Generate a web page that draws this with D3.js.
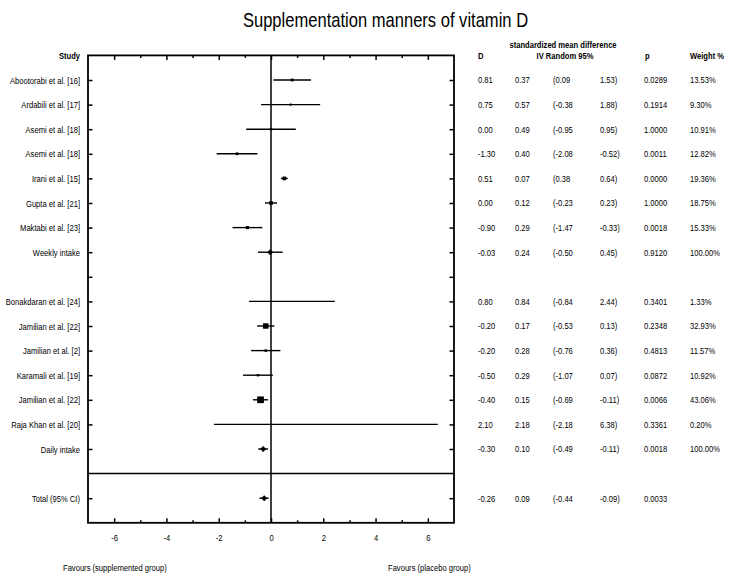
<!DOCTYPE html>
<html>
<head>
<meta charset="utf-8">
<script src="https://cdn.jsdelivr.net/npm/d3@7"></script>
<style>
  html, body { margin: 0; padding: 0; background: #fff; }
  svg { display: block; font-family: "Liberation Sans", Arial, sans-serif; }
  text { fill: #000; }
</style>
</head>
<body>
<svg id="chart" width="734" height="577"></svg>
<script>
// ---- data ----
const rowLabels = ["Abootorabi et al. [16]", "Ardabili et al. [17]", "Asemi et al. [18]", "Asemi et al. [18]",
  "Irani et al. [15]", "Gupta et al. [21]", "Maktabi et al. [23]", "Weekly intake", "",
  "Bonakdaran et al. [24]", "Jamilian et al. [22]", "Jamilian et al. [2]", "Karamali et al. [19]",
  "Jamilian et al. [22]", "Raja Khan et al. [20]", "Daily intake", "", "Total (95% CI)"];
const rowKinds = ["study", "study", "study", "study", "study", "study", "study", "pooled", "blank",
  "study", "study", "study", "study", "study", "study", "pooled", "separator", "pooled"];
const smd = [0.81, 0.75, 0.00, -1.30, 0.51, 0.00, -0.90, -0.03, null,
  0.80, -0.20, -0.20, -0.50, -0.40, 2.10, -0.30, null, -0.26];
const se = [0.37, 0.57, 0.49, 0.40, 0.07, 0.12, 0.29, 0.24, null,
  0.84, 0.17, 0.28, 0.29, 0.15, 2.18, 0.10, null, 0.09];
const ciLow = [0.09, -0.38, -0.95, -2.08, 0.38, -0.23, -1.47, -0.50, null,
  -0.84, -0.53, -0.76, -1.07, -0.69, -2.18, -0.49, null, -0.44];
const ciHigh = [1.53, 1.88, 0.95, -0.52, 0.64, 0.23, -0.33, 0.45, null,
  2.44, 0.13, 0.36, 0.07, -0.11, 6.38, -0.11, null, -0.09];
const pValues = ["0.0289", "0.1914", "1.0000", "0.0011", "0.0000", "1.0000", "0.0018", "0.9120", null,
  "0.3401", "0.2348", "0.4813", "0.0872", "0.0066", "0.3361", "0.0018", null, "0.0033"];
const weights = [13.53, 9.30, 10.91, 12.82, 19.36, 18.75, 15.33, 100.00, null,
  1.33, 32.93, 11.57, 10.92, 43.06, 0.20, 100.00, null, null];
const majorTicks = [-6, -4, -2, 0, 2, 4, 6];
const minorTicks = [-5, -3, -1, 1, 3, 5];
const title = "Supplementation manners of vitamin D";
const leftNote = "Favours (supplemented group)";
const rightNote = "Favours (placebo group)";

// ---- layout ----
const SX = 0.8; // horizontal text compression seen in the reference
const svg = d3.select("#chart");
const x = d3.scaleLinear().domain([-7, 7]).range([88, 454]);
const y = d3.scaleLinear().domain([-1, 18]).range([55.4, 522.8]);
const sizeScale = d3.scalePow().exponent(0.75).domain([0, 43.06]).range([0, 6.7]);
const hy = s => s.replace(/\u2212/g, "-");

function put(sel, px, py, str, opts = {}) {
  return sel.append("text")
    .attr("transform", `translate(${px},${py}) scale(${SX},1)`)
    .attr("text-anchor", opts.anchor || "start")
    .attr("dy", opts.dy || "0.35em")
    .style("font-size", (opts.size || 9.5) + "px")
    .style("font-weight", opts.weight || "normal")
    .text(str);
}

// title
put(svg, 385.5, 20, title, { anchor: "middle", size: 20.7 });

const x0 = x.range()[0], x1 = x.range()[1];
const yTop = y(-1), yBot = y(18);
const rowIdx = d3.range(rowLabels.length);
const tickRows = rowIdx.filter(i => rowKinds[i] !== "separator");

// axes
const axisStyle = g => {
  g.select(".domain").remove();
  g.selectAll(".tick line").attr("stroke", "#000").attr("stroke-width", 1.5);
  g.selectAll("text").style("font-family", "Liberation Sans, Arial, sans-serif");
};

const bottomMajor = svg.append("g").attr("transform", `translate(0,${yBot})`)
  .call(d3.axisBottom(x).tickValues(majorTicks).tickSizeInner(-4.5).tickSizeOuter(0).tickPadding(11)
    .tickFormat(d => hy(d3.format("d")(d))))
  .call(axisStyle);
bottomMajor.selectAll("text").attr("transform", `scale(${SX},1)`).style("font-size", "9.5px").attr("fill", "#000");
svg.append("g").attr("transform", `translate(0,${yBot})`)
  .call(d3.axisBottom(x).tickValues(minorTicks).tickSizeInner(-2.5).tickSizeOuter(0).tickFormat(""))
  .call(axisStyle);
svg.append("g").attr("transform", `translate(0,${yTop})`)
  .call(d3.axisTop(x).tickValues(majorTicks).tickSizeInner(-4.5).tickSizeOuter(0).tickFormat(""))
  .call(axisStyle);
svg.append("g").attr("transform", `translate(0,${yTop})`)
  .call(d3.axisTop(x).tickValues(minorTicks).tickSizeInner(-2.5).tickSizeOuter(0).tickFormat(""))
  .call(axisStyle);

const leftAxis = svg.append("g").attr("transform", `translate(${x0},0)`)
  .call(d3.axisLeft(y).tickValues(tickRows).tickSizeInner(-4.5).tickSizeOuter(0).tickFormat(i => rowLabels[i]))
  .call(axisStyle);
leftAxis.selectAll("text")
  .attr("x", null)
  .attr("transform", `translate(-8,0) scale(${SX},1)`)
  .style("font-size", "9.5px").attr("fill", "#000");
svg.append("g").attr("transform", `translate(${x1},0)`)
  .call(d3.axisRight(y).tickValues(tickRows).tickSizeInner(-4.5).tickSizeOuter(0).tickFormat(""))
  .call(axisStyle);

// frame
svg.append("rect").attr("x", x0).attr("y", yTop).attr("width", x1 - x0).attr("height", yBot - yTop)
  .attr("fill", "none").attr("stroke", "#000").attr("stroke-width", 1.8);
// zero line
svg.append("line").attr("x1", x(0)).attr("x2", x(0)).attr("y1", yTop).attr("y2", yBot)
  .attr("stroke", "#000").attr("stroke-width", 1.5);
// separator
rowIdx.filter(i => rowKinds[i] === "separator").forEach(i => {
  svg.append("line").attr("x1", x0).attr("x2", x1).attr("y1", y(i)).attr("y2", y(i))
    .attr("stroke", "#000").attr("stroke-width", 1.5);
});

// CIs and markers
const dataRows = rowIdx.filter(i => rowKinds[i] === "study" || rowKinds[i] === "pooled");
svg.append("g").selectAll("line").data(dataRows).join("line")
  .attr("x1", i => x(ciLow[i])).attr("x2", i => x(ciHigh[i]))
  .attr("y1", i => y(i)).attr("y2", i => y(i))
  .attr("stroke", "#000").attr("stroke-width", 1.4);
const studyRows = dataRows.filter(i => rowKinds[i] === "study");
svg.append("g").selectAll("rect").data(studyRows).join("rect")
  .attr("x", i => x(smd[i]) - sizeScale(weights[i]) / 2)
  .attr("y", i => y(i) - sizeScale(weights[i]) / 2)
  .attr("width", i => sizeScale(weights[i]))
  .attr("height", i => sizeScale(weights[i]))
  .attr("fill", "#000");
const pooledRows = dataRows.filter(i => rowKinds[i] === "pooled");
svg.append("g").selectAll("path").data(pooledRows).join("path")
  .attr("d", i => {
    const cx = x(smd[i]), cy = y(i), w = 3, h = 3;
    return `M${cx - w},${cy}L${cx},${cy - h}L${cx + w},${cy}L${cx},${cy + h}Z`;
  })
  .attr("fill", "#000");

// table header
const hdr = svg.append("g");
put(hdr, 80, y(-1), "Study", { anchor: "end", weight: "bold" });
put(hdr, 478, y(-1), "D", { weight: "bold" });
put(hdr, 563, 45, "standardized mean difference", { anchor: "middle", weight: "bold" });
put(hdr, 565, y(-1), "IV Random 95%", { anchor: "middle", weight: "bold" });
put(hdr, 645, y(-1), "p", { weight: "bold" });
put(hdr, 690, y(-1), "Weight %", { weight: "bold" });

// table body
const tbl = svg.append("g");
const f2 = d3.format(".2f");
dataRows.forEach(i => {
  const yy = y(i);
  put(tbl, 478, yy, hy(f2(smd[i])));
  put(tbl, 515, yy, f2(se[i]));
  put(tbl, 553, yy, "(" + hy(f2(ciLow[i])));
  put(tbl, 600, yy, hy(f2(ciHigh[i])) + ")");
  put(tbl, 644, yy, pValues[i]);
  if (weights[i] !== null) put(tbl, 690, yy, f2(weights[i]) + "%");
});

// favours notes
put(svg, 63, 568, leftNote, {});
put(svg, 388, 568, rightNote, {});
</script>
</body>
</html>
